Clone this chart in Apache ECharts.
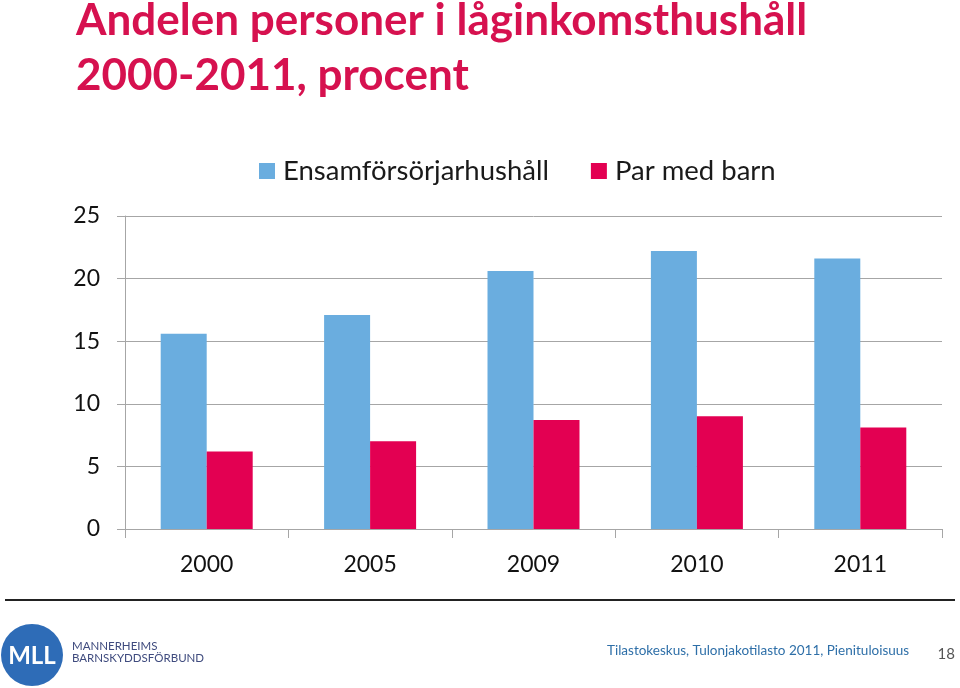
<!DOCTYPE html>
<html>
<head>
<meta charset="utf-8">
<script src="https://cdn.jsdelivr.net/npm/echarts@6/dist/echarts.min.js"></script>
<style>
html,body{margin:0;padding:0;background:#fff;}
#c{width:960px;height:688px;}
</style>
</head>
<body>
<div id="c"></div>
<script>
var categories = ['2000', '2005', '2009', '2010', '2011'];
var ensamValues = [15.6, 17.1, 20.6, 22.2, 21.6];
var parValues = [6.2, 7.0, 8.7, 9.0, 8.1];
var seriesNames = ['Ensamförsörjarhushåll', 'Par med barn'];
var yTicks = [0, 5, 10, 15, 20, 25];
var titleLines = ['Andelen personer i låginkomsthushåll', '2000-2011, procent'];
var sourceText = 'Tilastokeskus, Tulonjakotilasto 2011, Pienituloisuus';
var pageNumber = '18';

var FONT = 'Lato, "Open Sans", sans-serif';
var chart = echarts.init(document.getElementById('c'), null, {renderer: 'canvas'});
chart.setOption({
  animation: false,
  backgroundColor: '#ffffff',
  title: {
    text: titleLines.join('\n'),
    left: 76, top: -7, padding: 0,
    textStyle: {color: '#D6114F', fontFamily: FONT, fontWeight: 'bold', fontSize: 44, lineHeight: 55}
  },
  legend: {
    data: seriesNames,
    left: 259, top: 157, padding: 0,
    itemWidth: 16, itemHeight: 16, itemGap: 42,
    icon: 'rect',
    textStyle: {color: '#1a1a1a', fontFamily: FONT, fontSize: 27.5, padding: [0, 0, 0, 3]}
  },
  grid: {left: 125, right: 18, top: 216, bottom: 159, containLabel: false},
  xAxis: {
    type: 'category',
    data: categories,
    axisLine: {lineStyle: {color: '#A6A6A6', width: 1}},
    axisTick: {show: true, length: 9, lineStyle: {color: '#A6A6A6'}},
    axisLabel: {color: '#111', fontFamily: FONT, fontSize: 23, margin: 24}
  },
  yAxis: {
    type: 'value',
    min: yTicks[0], max: yTicks[yTicks.length - 1], interval: 5,
    axisLine: {show: true, lineStyle: {color: '#A6A6A6', width: 1}},
    axisTick: {show: true, length: 8, lineStyle: {color: '#A6A6A6'}},
    splitLine: {lineStyle: {color: '#A6A6A6', width: 1}},
    axisLabel: {color: '#111', fontFamily: FONT, fontSize: 23, margin: 25}
  },
  series: [
    {name: seriesNames[0], type: 'bar', data: ensamValues, barWidth: 46, barGap: '0%',
     itemStyle: {color: '#6AADDF'}},
    {name: seriesNames[1], type: 'bar', data: parValues, barWidth: 46, barGap: '0%',
     itemStyle: {color: '#E30052'}}
  ],
  graphic: [
    {type: 'line', shape: {x1: 5, y1: 600, x2: 955, y2: 600}, style: {stroke: '#222', lineWidth: 2}},
    {type: 'circle', shape: {cx: 32, cy: 655, r: 31}, style: {fill: '#2E6CB7'}},
    {type: 'text', x: 32, y: 656, style: {text: 'MLL', fill: '#fff', font: 'bold 24px ' + FONT, textAlign: 'center', textVerticalAlign: 'middle'}},
    {type: 'text', x: 72, y: 646, style: {text: 'MANNERHEIMS', fill: '#3F4B7E', font: '11.5px ' + FONT, textAlign: 'left', textVerticalAlign: 'middle'}},
    {type: 'text', x: 72, y: 658, style: {text: 'BARNSKYDDSFÖRBUND', fill: '#3F4B7E', font: '11.5px ' + FONT, textAlign: 'left', textVerticalAlign: 'middle'}},
    {type: 'text', x: 607, y: 651, style: {text: sourceText, fill: '#2E6FA8', font: '13.5px ' + FONT, textAlign: 'left', textVerticalAlign: 'middle'}},
    {type: 'text', x: 955, y: 654, style: {text: pageNumber, fill: '#555', font: '15px ' + FONT, textAlign: 'right', textVerticalAlign: 'middle'}}
  ]
});
</script>
</body>
</html>
